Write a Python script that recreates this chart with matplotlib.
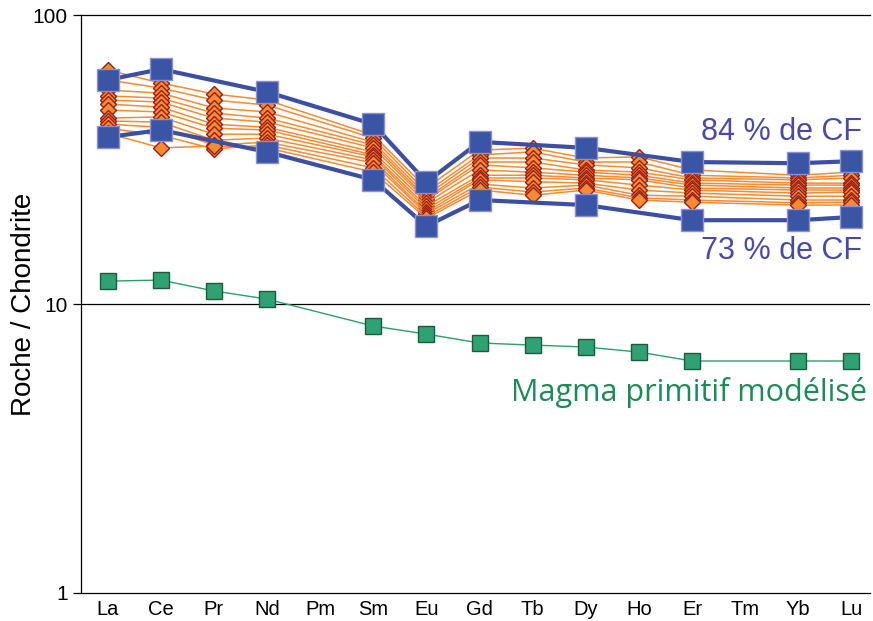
import numpy as np
import matplotlib
matplotlib.use("Agg")
import matplotlib.pyplot as plt

plt.rcParams["font.family"] = ["Liberation Sans", "DejaVu Sans"]

REE = ["La", "Ce", "Pr", "Nd", "Pm", "Sm", "Eu", "Gd", "Tb", "Dy", "Ho", "Er", "Tm", "Yb", "Lu"]

# samples: all REE except Pm and Tm
SAMPLE_REE = ["La", "Ce", "Pr", "Nd", "Sm", "Eu", "Gd", "Tb", "Dy", "Ho", "Er", "Yb", "Lu"]
samples = [
    [64.5, 58.2, 53.3, 50.8, 38.4, 25.2, 34.1, 34.6, 32.0, 32.3, 29.1, 27.9, 28.6],
    [59.6, 55.9, 50.8, 48.8, 37.5, 24.4, 32.8, 33.6, 31.0, 31.0, 27.9, 27.3, 27.9],
    [55.0, 53.7, 47.7, 46.2, 36.3, 23.8, 32.0, 32.0, 30.3, 29.6, 27.3, 26.9, 27.3],
    [52.5, 51.6, 45.8, 44.0, 35.5, 23.3, 31.0, 31.0, 29.1, 28.6, 26.9, 26.2, 26.2],
    [50.8, 50.0, 44.0, 42.6, 34.7, 22.9, 30.3, 29.6, 28.6, 27.9, 26.2, 25.8, 25.8],
    [49.2, 48.0, 41.9, 40.9, 33.6, 22.4, 29.1, 28.6, 27.9, 27.3, 25.8, 25.2, 25.2],
    [46.9, 46.2, 40.6, 40.0, 32.8, 21.8, 27.9, 27.9, 27.3, 26.9, 25.2, 24.8, 24.8],
    [44.0, 44.4, 38.7, 38.7, 32.3, 21.3, 27.3, 27.3, 26.9, 25.8, 24.8, 24.2, 24.4],
    [43.0, 42.6, 36.9, 37.5, 31.5, 20.8, 26.9, 26.5, 26.2, 24.8, 24.2, 23.6, 23.6],
    [41.9, 40.9, 35.5, 36.3, 30.8, 20.5, 26.0, 25.2, 25.8, 23.8, 23.6, 22.9, 22.9],
    [40.6, 38.4, 34.4, 35.5, 29.6, 20.1, 25.4, 24.4, 25.2, 23.3, 22.9, 22.4, 22.5],
    [39.0, 34.7, 35.2, 34.7, 28.6, 19.8, 24.8, 23.8, 24.8, 22.9, 22.5, 22.0, 22.0],
]

# partial-melting model curves
MODEL_REE = ["La", "Ce", "Nd", "Sm", "Eu", "Gd", "Dy", "Er", "Yb", "Lu"]
cf84 = [59.6, 65.0, 54.2, 41.9, 26.4, 36.4, 34.7, 31.0, 30.7, 31.2]
cf73 = [37.8, 40.0, 33.6, 26.9, 18.6, 22.9, 22.0, 19.5, 19.5, 20.0]

# modelled primitive magma
MAGMA_REE = ["La", "Ce", "Pr", "Nd", "Sm", "Eu", "Gd", "Tb", "Dy", "Ho", "Er", "Yb", "Lu"]
magma = [12.0, 12.1, 11.1, 10.4, 8.39, 7.87, 7.33, 7.21, 7.1, 6.82, 6.35, 6.35, 6.35]


def xpos(names):
    return [REE.index(n) for n in names]


fig = plt.figure(figsize=(8.73, 6.21), dpi=100)
ax = fig.add_axes([0.0928, 0.0451, 0.9038, 0.9307])

xs = xpos(SAMPLE_REE)
for s in samples:
    ax.plot(xs, s, color="#f58b33", lw=1.1, zorder=2,
            marker="D", ms=8.5, mfc="#f58b33", mec="#9b1d14", mew=1.0)

xm = xpos(MODEL_REE)
for curve in (cf84, cf73):
    ax.plot(xm, curve, color="#3d4fa3", lw=3, zorder=3,
            marker="s", ms=16, mfc="#3a55a6", mec="#8c8fd0", mew=1.0)

ax.plot(xpos(MAGMA_REE), magma, color="#2e9c6c", lw=1.0, zorder=3,
        marker="s", ms=12, mfc="#2fa173", mec="#1e5a3c", mew=1.0)

ax.axhline(10, color="black", lw=0.9, zorder=1)

ax.text(14.2, 39.5, "84 % de CF", color="#4a4aa6", fontsize=22,
        ha="right", va="center")
ax.text(14.2, 15.2, "73 % de CF", color="#4a4aa6", fontsize=22,
        ha="right", va="center")
ax.text(14.3, 4.95, "Magma primitif modélisé", color="#1d8a58", fontsize=22,
        ha="right", va="center", family=["Open Sans", "DejaVu Sans"])

ax.set_yscale("log")
ax.set_ylim(1, 100)
ax.set_xlim(-0.5, 14.35)
ax.set_yticks([1, 10, 100])
ax.set_yticklabels(["1", "10", "100"])
ax.yaxis.set_minor_locator(matplotlib.ticker.NullLocator())
ax.set_xticks(range(len(REE)))
ax.set_xticklabels(REE)
ax.tick_params(axis="x", length=0, pad=5, labelsize=14.5)
ax.tick_params(axis="y", length=6, width=0.9, labelsize=15)
ax.set_ylabel("Roche / Chondrite", fontsize=20)
ax.yaxis.set_label_coords(-0.056, 0.5)

for side in ("left", "bottom", "top"):
    ax.spines[side].set_linewidth(0.9)
ax.spines["right"].set_visible(False)

fig.savefig("out.png", dpi=100, facecolor="white")
